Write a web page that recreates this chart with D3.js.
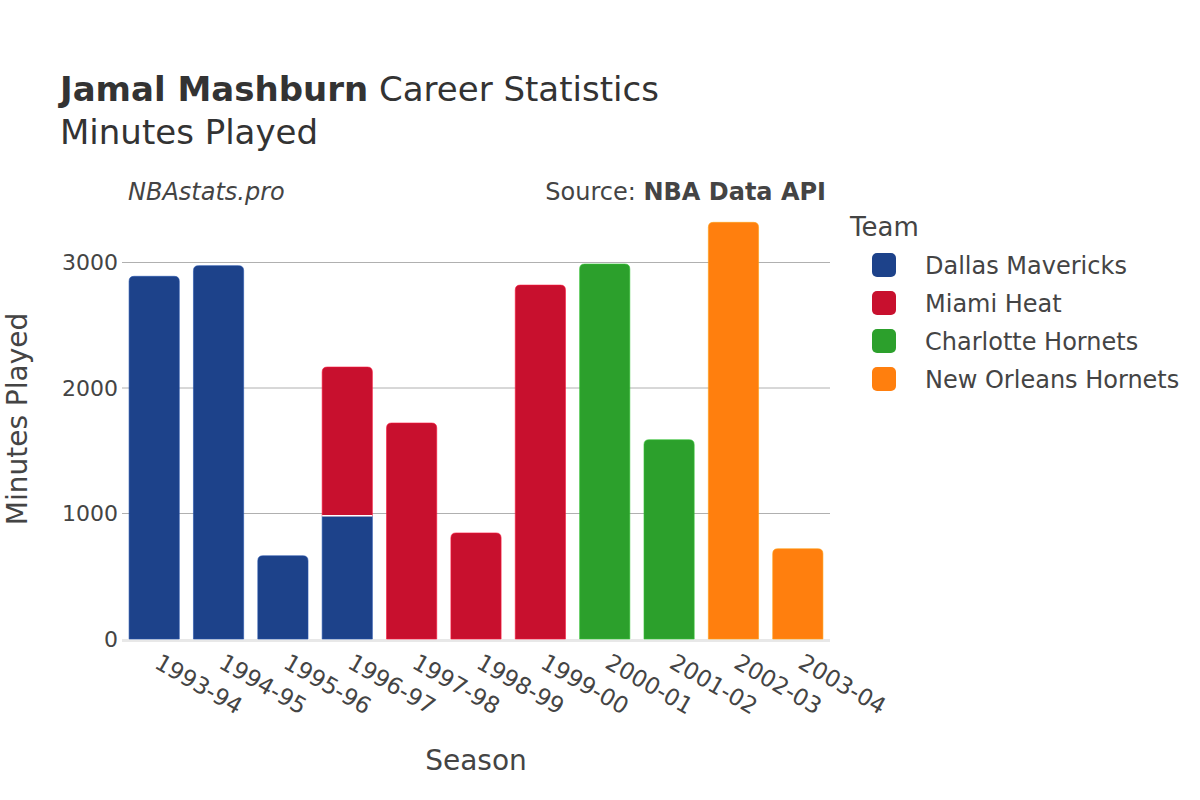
<!DOCTYPE html>
<html><head><meta charset="utf-8">
<script src="https://cdn.jsdelivr.net/npm/d3@7"></script>
<style>body{margin:0;background:#fff;} svg{font-family:"DejaVu Sans",sans-serif;}</style>
</head><body>
<svg id="c" width="1200" height="800"></svg>
<script>
const seasons = ["1993-94","1994-95","1995-96","1996-97","1997-98","1998-99","1999-00","2000-01","2001-02","2002-03","2003-04"];
const teams = ["Dallas Mavericks","Miami Heat","Charlotte Hornets","New Orleans Hornets"];
const teamColors = ["#1D428A","#C8102E","#2CA02C","#FF7F0E"];
const dallas    = [2890,2975,663,982,0,0,0,0,0,0,0];
const miami     = [0,0,0,1185,1721,845,2820,0,0,0,0];
const charlotte = [0,0,0,0,0,0,0,2988,1588,0,0];
const newOrleans= [0,0,0,0,0,0,0,0,0,3320,719];
const yTicks = [0,1000,2000,3000];

const series = [dallas, miami, charlotte, newOrleans];
const svg = d3.select("#c");
const L=122, R=830, T=200, B=639;
const x = d3.scaleBand().domain(seasons).range([L,R]).paddingInner(0.22).paddingOuter(0.11);
const y = d3.scaleLinear().domain([0,3500]).range([B,B-3500*0.1255]);

// grid
svg.append("g").selectAll("line").data(yTicks.filter(d=>d>0)).join("line")
  .attr("x1",L).attr("x2",R).attr("y1",d=>y(d)).attr("y2",d=>y(d))
  .attr("stroke","#b0b0b0").attr("stroke-width",1);
svg.append("line").attr("x1",L).attr("x2",R).attr("y1",y(0)+1.5).attr("y2",y(0)+1.5)
  .attr("stroke","#e8e8e8").attr("stroke-width",3);

// bars
function topRounded(x0,y0,w,h,r){
  r=Math.min(r,h,w/2);
  return `M${x0},${y0+h}V${y0+r}Q${x0},${y0} ${x0+r},${y0}H${x0+w-r}Q${x0+w},${y0} ${x0+w},${y0+r}V${y0+h}Z`;
}
const bars = svg.append("g");
seasons.forEach((s,i)=>{
  let base=0;
  const segs=[];
  series.forEach((arr,k)=>{ if(arr[i]>0){ segs.push({k,v0:base,v1:base+arr[i]}); base+=arr[i]; }});
  segs.forEach((sg,j)=>{
    const x0=x(s), w=x.bandwidth();
    const y0=y(sg.v1), h=y(sg.v0)-y(sg.v1);
    const isTop = j===segs.length-1;
    bars.append("path")
      .attr("d", isTop? topRounded(x0,y0,w,h,5) : `M${x0},${y0}h${w}v${h}h${-w}Z`)
      .attr("fill",teamColors[sg.k])
      .attr("stroke",d3.color(teamColors[sg.k]).brighter(0.6)).attr("stroke-width",0.6);
    if(j>0){
      bars.append("line").attr("x1",x0).attr("x2",x0+w).attr("y1",y(sg.v0)).attr("y2",y(sg.v0))
        .attr("stroke","#fff").attr("stroke-width",1.5);
    }
  });
});

// y axis labels
svg.append("g").selectAll("text").data(yTicks).join("text")
  .attr("x",L-4).attr("y",d=>y(d)).attr("dy","0.36em").attr("text-anchor","end")
  .attr("font-size",22).attr("fill","#444").text(d=>d);

// x labels
svg.append("g").selectAll("text").data(seasons).join("text")
  .attr("transform",d=>`translate(${x(d)+x.bandwidth()/2-1},${667}) rotate(30)`)
  .attr("font-size",23).attr("fill","#444").text(d=>d);

// axis titles
svg.append("text").attr("x",(L+R)/2).attr("y",770).attr("text-anchor","middle")
  .attr("font-size",28).attr("fill","#444").text("Season");
svg.append("text").attr("transform",`translate(27,419) rotate(-90)`).attr("text-anchor","middle")
  .attr("font-size",28).attr("fill","#444").text("Minutes Played");

// titles
const t = svg.append("text").attr("x",60).attr("y",101).attr("font-size",34).attr("fill","#333");
t.append("tspan").attr("font-weight","bold").text("Jamal Mashburn");
t.append("tspan").text(" Career Statistics");
svg.append("text").attr("x",60).attr("y",144).attr("font-size",34).attr("fill","#333").text("Minutes Played");
svg.append("text").attr("x",128).attr("y",200).attr("font-size",24).attr("font-style","italic").attr("fill","#444").text("NBAstats.pro");
const s2 = svg.append("text").attr("x",826).attr("y",200).attr("text-anchor","end").attr("font-size",24).attr("fill","#444");
s2.append("tspan").text("Source: ");
s2.append("tspan").attr("font-weight","bold").text("NBA Data API");

// legend
svg.append("text").attr("x",850).attr("y",236).attr("font-size",26).attr("fill","#444").text("Team");
const lg = svg.append("g").selectAll("g").data(teams).join("g")
  .attr("transform",(d,i)=>`translate(872,${265+i*38})`);
lg.append("rect").attr("x",0).attr("y",-12).attr("width",24).attr("height",24).attr("rx",5)
  .attr("fill",(d,i)=>teamColors[i]);
lg.append("text").attr("x",53).attr("dy","0.36em").attr("font-size",24).attr("fill","#444").text(d=>d);
</script>
</body></html>
